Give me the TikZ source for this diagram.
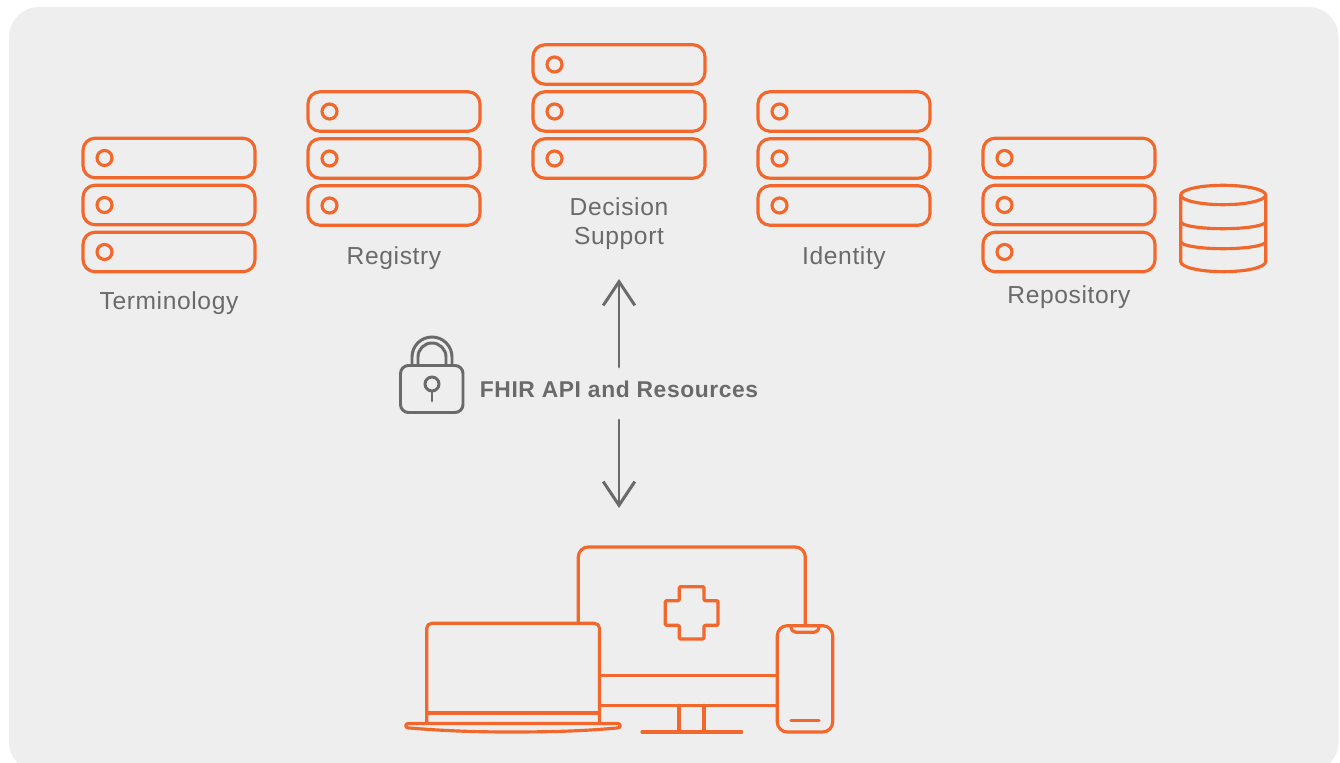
\documentclass[tikz,border=0pt]{standalone}
\usepackage{fontspec}
\setmainfont[LetterSpace=2.5]{Liberation Sans}
\usetikzlibrary{calc,positioning,arrows.meta}
\definecolor{cardgray}{HTML}{EEEEEE}
\definecolor{fhirorange}{HTML}{F2682C}
\definecolor{textgray}{HTML}{6A6A6A}
\tikzset{
  line/.style={draw=fhirorange, line width=1.8pt, line join=round, line cap=round},
  grayline/.style={draw=textgray, line width=1.7pt, line join=round, line cap=round},
  rackbox/.style={line, rectangle, rounded corners=.24cm, minimum width=3.44cm, minimum height=.79cm, inner sep=0pt},
  rackled/.style={line, circle, minimum size=.3cm, inner sep=0pt},
  caption/.style={text=textgray, font=\fontsize{14}{16.5}\selectfont, align=center, inner sep=0pt},
  apiarrow/.style={grayline, -{Straight Barb[length=13.5pt, width=18pt, line width=1.7pt]}},
}

\begin{document}
\begin{tikzpicture}[x=.02cm, y=-.02cm]
      \useasboundingbox (0,0) rectangle (1340,763);

      % Card
      \fill[cardgray, rounded corners=.6cm] (9,772) -- (9,7) -- (1338.5,7) -- (1338.5,772) -- cycle;

      % Points
      \coordinate (term) at (169,205);
      \coordinate (reg) at (394,158.5);
      \coordinate (dec) at (619,111.5);
      \coordinate (iden) at (844,158.5);
      \coordinate (repo) at (1069,205);

      % Racks
      \foreach \point in {term, reg, dec, iden, repo} {
        \node[rackbox] (\point1) at ($(\point) + (0,-47)$) {};
        \node[rackbox] (\point2) at (\point) {};
        \node[rackbox] (\point3) at ($(\point) + (0,47)$) {};
        \foreach \row in {1,2,3} {
          \node[rackled, right=.28cm of \point\row.west] (\point\row led) {};
        }
      }

      % Labels of the racks
      \node[caption] (termlabel) at ($(term3) + (0,51)$) {Terminology};
      \node[caption] (reglabel) at ($(reg3) + (0,52.5)$) {Registry};
      \node[caption] (declabel) at ($(dec3) + (0,65)$) {Decision\\Support};
      \node[caption] (idenlabel) at ($(iden3) + (0,52.5)$) {Identity};
      \node[caption] (repolabel) at ($(repo3) + (0,45)$) {Repository};

      % Database
      \draw[line] (1180.7,195) arc (180:-180:42.5 and 9.7);
      \draw[line] (1180.7,195) -- (1180.7,261.7) arc (180:0:42.5 and 10) -- (1265.7,195);
      \draw[line] (1180.7,221.7) arc (180:0:42.5 and 7);
      \draw[line] (1180.7,241.7) arc (180:0:42.5 and 7);

      % API label and arrows
      \node[text=textgray, font=\bfseries\fontsize{13}{16}\selectfont, inner sep=0pt] (api) at (619,389) {FHIR API and Resources};
      \coordinate (upstart) at (619,367);
      \coordinate (upend) at (619,279);
      \coordinate (downstart) at (619,420);
      \coordinate (downend) at (619,508);
      \draw[apiarrow] (upstart) -- (upend);
      \draw[apiarrow] (downstart) -- (downend);

      % Lock
      \draw[grayline, rounded corners=.16cm] (400.5,365.5) rectangle (463,412.5);
      \draw[grayline] (412,365) -- (412,357) arc (180:360:20) -- (452,365);
      \draw[grayline] (418,365) -- (418,357) arc (180:360:14) -- (446,365);
      \draw[grayline] (432,384) circle (7);
      \draw[grayline] (432,391) -- (432,401);

      % Monitor
      \draw[line, rounded corners=.2cm] (578.3,623) -- (578.3,547) -- (805.3,547) -- (805.3,625);
      \draw[line] (600,675.7) -- (777,675.7);
      \draw[line] (600,705.3) -- (777,705.3);
      \draw[line] (679,705.3) -- (679,732);
      \draw[line] (704,705.3) -- (704,732);
      \draw[line] (642,732) -- (741.7,732);
      \draw[line, rounded corners=.02cm] (679.3,586.7) -- (704,586.7) -- (704,600.7) -- (718,600.7) -- (718,625.3)
        -- (704,625.3) -- (704,639) -- (679.3,639) -- (679.3,625.3) -- (665.3,625.3) -- (665.3,600.7) -- (679.3,600.7) -- cycle;

      % Laptop
      \draw[line, rounded corners=.1cm] (426.7,723.5) -- (426.7,623.3) -- (599.5,623.3) -- (599.5,723.5);
      \draw[line] (426.7,713) -- (599.5,713);
      \draw[line] (408,723.5) -- (618,723.5) arc (-90:90:2.2) .. controls (590,730.5) and (560,732) .. (510,732)
        .. controls (470,732) and (440,730.5) .. (408,727.9) arc (90:270:2.2) -- cycle;

      % Phone
      \draw[line, rounded corners=.2cm] (777.3,625.7) rectangle (832.7,732);
      \draw[line] (790.7,625.7) .. controls (791.5,630.5) and (793,632.3) .. (796,632.3) -- (814,632.3)
        .. controls (817,632.3) and (818.5,630.5) .. (819.3,625.7);
      \draw[line] (791,720.7) -- (819,720.7);
    \end{tikzpicture}
\end{document}
